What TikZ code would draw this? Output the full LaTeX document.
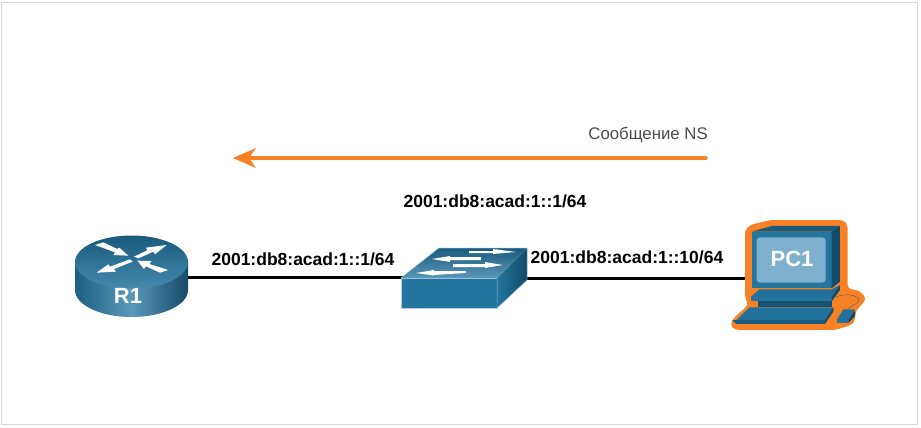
\documentclass[tikz,border=0pt]{standalone}
\usepackage{fontspec}
\setmainfont{Liberation Sans}
\usetikzlibrary{arrows.meta}
\definecolor{orng}{HTML}{F98125}
\definecolor{blueA}{HTML}{23759F}
\definecolor{blueB}{HTML}{195A7D}
\definecolor{blueC}{HTML}{134A68}
\definecolor{blueL}{HTML}{7FB0CE}
\tikzset{
  addr/.style={font=\bfseries\fontsize{17.5}{19}\selectfont,text=black,inner sep=0pt},
  link/.style={line width=3pt,black},
  arrowflake/.style={fill=white,draw=none},
  devlabel/.style={font=\bfseries\fontsize{22}{24}\selectfont,text=white,inner sep=0pt}
}
\begin{document}
\begin{tikzpicture}[x=1pt,y=-1pt]
\useasboundingbox (0,0) rectangle (921,428);
\fill[white] (0,0) rectangle (921,428);
\draw[black!15,line width=0.8pt] (1,2) rectangle (917,424);

\coordinate (r1port) at (186,277);
\coordinate (swL) at (403,277);
\coordinate (swR) at (525,278);
\coordinate (pcport) at (746,278);
\draw[link] (r1port) -- (swL);
\draw[link] (swR) -- (pcport);

% router
\shade[left color=blueB!80!blueA,right color=blueC,middle color=blueL!60!blueA,draw=none]
  (75,262) -- (75,290) arc[start angle=180,end angle=0,x radius=56.5,y radius=27] -- (188,262) -- cycle;
\shade[top color=blueB,bottom color=blueA!85!white] (75,262) arc[start angle=180,end angle=-180,x radius=56.5,y radius=26.5];
\begin{scope}[shift={(60,225)},x=.3333pt,y=-.3333pt]
\fill[arrowflake] (105,60) -- (130,52) -- (172,72) -- (178,68) -- (205,92) -- (160,90) -- (165,82) -- cycle;
\fill[arrowflake] (222,95) -- (262,76) -- (258,68) -- (320,60) -- (285,88) -- (280,80) -- (235,100) -- cycle;
\fill[arrowflake] (210,103) -- (150,125) -- (145,118) -- (110,143) -- (168,140) -- (162,132) -- (218,110) -- cycle;
\fill[arrowflake] (232,107) -- (275,108) -- (268,117) -- (325,135) -- (300,143) -- (258,124) -- (252,132) -- cycle;
\end{scope}
\node[devlabel,anchor=center] (r1) at (128,296) {R1};

% switch
\fill[blueA,draw=blueL!60!white,line width=.5pt] (401,278) -- (497,278) -- (497,308) -- (401,308) -- cycle;
\shade[left color=blueA,right color=blueC,draw=none] (497,278) -- (527,248) -- (527,280) -- (497,308) -- cycle;
\shade[top color=blueB,bottom color=blueA!75!white,draw=none] (439,248) -- (527,248) -- (497,278) -- (401,278) -- cycle;
\draw[blueL,line width=.5pt] (401,278) -- (439,248) -- (527,248) -- (527,280) -- (497,308) -- (497,278) -- (401,278);
\fill[arrowflake] (469,251) -- (493,251) -- (493,249) -- (516,252) -- (493,254) -- (493,253) -- (469,253) -- cycle;
\fill[arrowflake] (432,259) -- (450,256) -- (450,257) -- (481,257) -- (481,260) -- (450,260) -- (450,262) -- cycle;
\fill[arrowflake] (453,264) -- (485,264) -- (485,262) -- (503,265) -- (485,268) -- (485,267) -- (453,267) -- cycle;
\fill[arrowflake] (416,273) -- (434,270) -- (434,271) -- (466,271) -- (466,273) -- (434,275) -- (434,275.5) -- cycle;

% PC (coordinates in a 3x frame from 720,210)
\begin{scope}[shift={(720,210)},x=.3333pt,y=-.3333pt]
\fill[orng,rounded corners=4pt] (75,60) -- (90,45) -- (150,30) -- (370,30) -- (383,45) -- (383,237) -- (415,240) -- (440,265) -- (420,290) -- (408,300) -- (405,330) -- (395,345) -- (345,360) -- (45,360) -- (30,345) -- (40,325) -- (85,285) -- (75,262) -- cycle;
% monitor
\fill[blueA] (95,65) rectangle (335,235);
\fill[blueB] (95,65) -- (155,48) -- (360,48) -- (335,65) -- cycle;
\fill[blueC!80!blueB] (335,65) -- (360,48) -- (360,215) -- (335,235) -- cycle;
\fill[blueL,rounded corners=3.5pt] (110,82) rectangle (317,218);
% base
\fill[blueC!85!blueA] (115,273) rectangle (335,290);
\fill[blueA!85!blueB] (92,261) -- (118,238) -- (335,238) -- (360,225) -- (335,261) -- cycle;
\fill[blueA] (92,261) rectangle (335,274);
\fill[blueC] (335,261) -- (360,225) -- (360,240) -- (335,274) -- cycle;
% keyboard
\fill[blueA!85!blueB] (50,330) -- (88,292) -- (340,292) -- (315,330) -- cycle;
\fill[blueC!60!blueA] (36,331) -- (50,330) -- (315,330) -- (315,342) -- (50,342) -- cycle;
\fill[blueC] (315,330) -- (340,292) -- (340,305) -- (315,342) -- cycle;
% mouse
\fill[blueA!85!blueB] (350,330) -- (370,298) -- (405,298) -- (385,330) -- cycle;
\fill[blueA] (350,330) rectangle (385,340);
\fill[blueC] (385,330) -- (405,300) -- (405,318) -- (385,340) -- cycle;
\draw[blueL!55!black,line width=.4pt] (345,262) .. controls (375,248) and (420,255) .. (416,272) .. controls (414,283) and (395,285) .. (385,296);
\end{scope}
\node[devlabel,anchor=center] (pc1) at (792,259) {PC1};

% labels
\node[addr,anchor=center] (a1) at (303,259) {2001:db8:acad:1::1/64};
\node[addr,anchor=center] (a2) at (495,201) {2001:db8:acad:1::1/64};
\node[addr,anchor=center] (a3) at (627,257) {2001:db8:acad:1::10/64};
\node[font=\fontsize{16.8}{19}\selectfont,text=black!70,inner sep=0pt,anchor=east] (ns) at (708,135) {Сообщение NS};

% message arrow
\coordinate (msgstart) at (706,158);
\coordinate (msgend) at (233,158);
\draw[orng,line width=3.4pt,line cap=round] (msgstart) -- (250,158);
\fill[orng] (msgend) -- (256,148) -- (249,158) -- (256,168) -- cycle;
\end{tikzpicture}
\end{document}
